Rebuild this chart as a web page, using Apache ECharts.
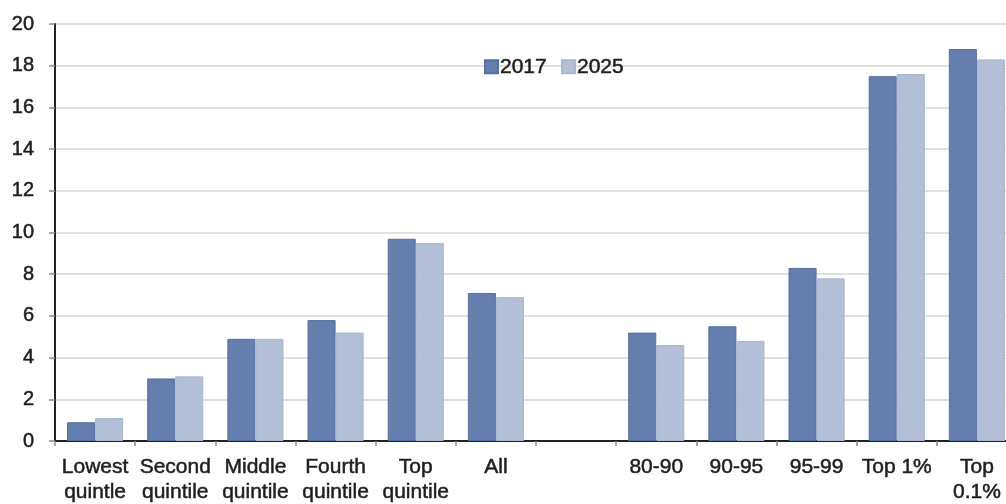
<!DOCTYPE html>
<html>
<head>
<meta charset="utf-8">
<title>Tax rate by income group, 2017 vs 2025</title>
<script src="https://cdn.jsdelivr.net/npm/echarts@6/dist/echarts.min.js"></script>
<style>
  html, body { margin: 0; padding: 0; background: #ffffff; }
  #chart { width: 1006px; height: 504px; }
</style>
</head>
<body>
<div id="chart"></div>
<script>
// Income groups (the empty slot separates quintiles from top percentiles)
const categories = [
  'Lowest\nquintle', 'Second\nquintile', 'Middle\nquintile', 'Fourth\nquintile',
  'Top\nquintile', 'All', '', '80-90', '90-95', '95-99', 'Top 1%', 'Top\n0.1%'
];
const seriesNames = ['2017', '2025'];
const values2017 = [0.9, 3.0, 4.9, 5.8, 9.7, 7.1, null, 5.2, 5.5, 8.3, 17.5, 18.8];
const values2025 = [1.1, 3.1, 4.9, 5.2, 9.5, 6.9, null, 4.6, 4.8, 7.8, 17.6, 18.3];
const yTicks = { min: 0, max: 20, interval: 2 };

const FONT = '"Liberation Sans", Arial, sans-serif';
const TEXT = '#1e1e1e';
// slightly heavier glyphs, like a thick Arial rendering
const heavy = { textBorderColor: TEXT, textBorderWidth: 0.5 };

const chart = echarts.init(document.getElementById('chart'), null, { renderer: 'canvas' });

chart.setOption({
  animation: false,
  backgroundColor: '#ffffff',
  textStyle: { fontFamily: FONT },
  // the last category runs a little past the right edge of the page
  grid: { left: 55, width: 962, top: 24, bottom: 63, containLabel: false, outerBoundsMode: 'none' },
  legend: {
    data: seriesNames,
    left: 479,
    top: 51,
    itemWidth: 13,
    itemHeight: 13,
    itemGap: 14,
    icon: 'rect',
    textStyle: Object.assign({ fontFamily: FONT, fontSize: 21, color: TEXT, padding: [0, 0, 0, -3] }, heavy)
  },
  xAxis: {
    type: 'category',
    data: categories,
    axisLine: { lineStyle: { color: '#222222', width: 2 } },
    axisTick: { show: true, length: 5, lineStyle: { color: '#8a8a8a', width: 1.5 } },
    axisLabel: Object.assign({
      interval: 0,
      margin: 14,
      fontFamily: FONT,
      fontSize: 21,
      lineHeight: 25,
      color: TEXT
    }, heavy)
  },
  yAxis: {
    type: 'value',
    min: yTicks.min,
    max: yTicks.max,
    interval: yTicks.interval,
    axisLine: { show: true, lineStyle: { color: '#222222', width: 2 } },
    axisTick: { show: true, length: 6, lineStyle: { color: '#8a8a8a', width: 1.5 } },
    axisLabel: Object.assign({ margin: 21, fontFamily: FONT, fontSize: 20, color: TEXT }, heavy),
    splitLine: { show: true, lineStyle: { color: '#d6d6d6', width: 1.5 } }
  },
  series: [
    {
      name: seriesNames[0],
      type: 'bar',
      data: values2017,
      barGap: '0%',
      barCategoryGap: '30%',
      itemStyle: { color: '#647eae', borderColor: '#56709f', borderWidth: 1 }
    },
    {
      name: seriesNames[1],
      type: 'bar',
      data: values2025,
      barGap: '0%',
      barCategoryGap: '30%',
      itemStyle: { color: '#b2bfd6', borderColor: '#a8b6cf', borderWidth: 1 }
    }
  ]
});
</script>
</body>
</html>
